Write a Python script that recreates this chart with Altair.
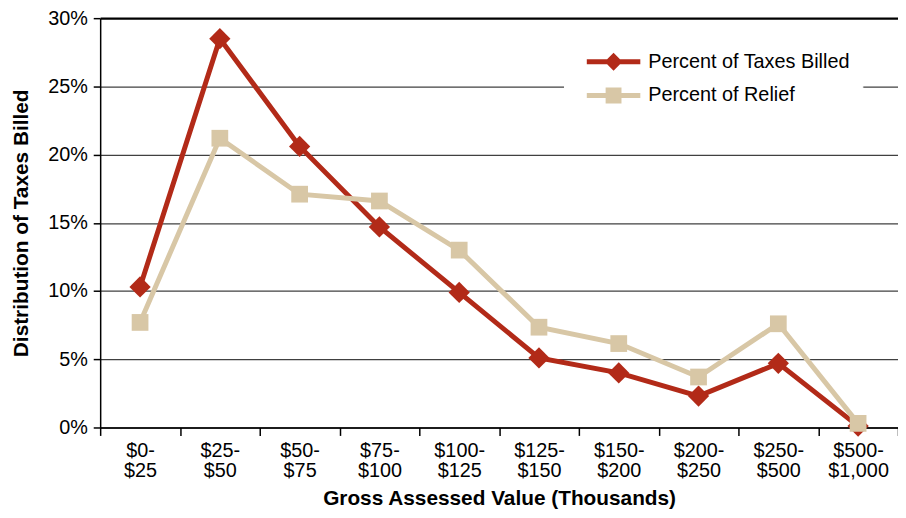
import altair as alt
import pandas as pd

categories = ["$0- $25", "$25- $50", "$50- $75", "$75- $100", "$100- $125",
              "$125- $150", "$150- $200", "$200- $250", "$250- $500", "$500- $1,000"]
taxes_billed = [10.3, 28.5, 20.6, 14.7, 9.9, 5.1, 4.0, 2.3, 4.7, 0.1]
relief = [7.7, 21.2, 17.1, 16.6, 13.0, 7.35, 6.15, 3.7, 7.6, 0.3]
series = ["Percent of Taxes Billed", "Percent of Relief"]
colors = ["#B22A18", "#D8C7A6"]
y_ticks = [0, 5, 10, 15, 20, 25, 30]

rows = []
for c, v in zip(categories, taxes_billed):
    rows.append({"cat": c, "series": series[0], "value": v})
for c, v in zip(categories, relief):
    rows.append({"cat": c, "series": series[1], "value": v})
df = pd.DataFrame(rows)

FONT = "Liberation Sans"

x_enc = alt.X("cat:N", sort=categories,
              scale=alt.Scale(type="band", paddingInner=0, paddingOuter=0),
              axis=alt.Axis(title="Gross Assessed Value (Thousands)",
                            labelExpr="split(datum.label, ' ')",
                            labelAngle=0, tickBand="extent", grid=False,
                            domainColor="black", domainWidth=1.5,
                            tickColor="black", tickWidth=1.5, tickSize=8,
                            labelFontSize=20, labelFont=FONT, labelColor="black",
                            labelPadding=5, labelLineHeight=20,
                            titleFontSize=21, titleFont=FONT, titleFontWeight="bold",
                            titleColor="black", titlePadding=8))
y_enc = alt.Y("value:Q",
              scale=alt.Scale(domain=[0, 30], nice=False),
              axis=alt.Axis(title="Distribution of Taxes Billed",
                            values=y_ticks, labelExpr="datum.value + '%'",
                            grid=True,
                            gridColor={"condition": {"test": "datum.value === 30", "value": "#000000"}, "value": "#404040"},
                            gridWidth={"condition": {"test": "datum.value === 30", "value": 2.2}, "value": 1.3},
                            domainColor="black", domainWidth=1.5,
                            tickColor="black", tickWidth=1.5, tickSize=7,
                            labelFontSize=20, labelFont=FONT, labelColor="black",
                            labelPadding=6,
                            titleFontSize=21, titleFont=FONT, titleFontWeight="bold",
                            titleColor="black", titlePadding=16))

x_plain = alt.X("cat:N", sort=categories)


def series_line(i):
    return alt.Chart(df).transform_filter(
        alt.datum.series == series[i]
    ).mark_line(strokeWidth=5, color=colors[i]).encode(x=x_enc, y=y_enc)


line_tax = series_line(0)
line_rel = series_line(1)

pts_tax = alt.Chart(df).transform_filter(
    alt.datum.series == series[0]
).mark_point(shape="diamond", filled=True, size=460, opacity=1, color=colors[0]).encode(
    x=x_plain, y="value:Q",
)

pts_rel = alt.Chart(df).transform_filter(
    alt.datum.series == series[1]
).mark_point(shape="square", filled=True, size=285, opacity=1, color=colors[1]).encode(
    x=x_plain, y="value:Q",
)

path_diamond = ("M-2.7,-0.25 L-0.65,-0.25 L0,-0.9 L0.65,-0.25 L2.7,-0.25 "
                "L2.7,0.25 L0.65,0.25 L0,0.9 L-0.65,0.25 L-2.7,0.25 Z")
path_square = ("M-2.7,-0.25 L-0.8,-0.25 L-0.8,-0.8 L0.8,-0.8 L0.8,-0.25 L2.7,-0.25 "
               "L2.7,0.25 L0.8,0.25 L0.8,0.8 L-0.8,0.8 L-0.8,0.25 L-2.7,0.25 Z")

legend_spec = dict(orient="none", legendX=468, legendY=22, title=None,
                   labelFontSize=20, labelFont=FONT, labelColor="black",
                   labelLimit=400,
                   symbolSize=400, symbolStrokeWidth=0, symbolOffset=28,
                   symbolOpacity=1,
                   labelOffset=25, rowPadding=14, padding=12,
                   fillColor="white", strokeColor="white")

legend_layer = alt.Chart(df).mark_point(
    filled=True, opacity=0, size=0
).encode(
    x=x_plain, y="value:Q",
    color=alt.Color("series:N", scale=alt.Scale(domain=series, range=colors),
                    legend=alt.Legend(**legend_spec)),
    shape=alt.Shape("series:N", scale=alt.Scale(domain=series, range=[path_diamond, path_square]),
                    legend=alt.Legend(**legend_spec)),
)

chart = alt.layer(line_tax, line_rel, pts_tax, pts_rel, legend_layer).properties(
    width=805, height=413,
    padding={"left": 93, "top": 8, "right": 0, "bottom": 81},
    autosize="none",
    background="white",
).configure_view(stroke=None)

chart.save("out.html", embed_options={"renderer": "svg", "actions": False})
